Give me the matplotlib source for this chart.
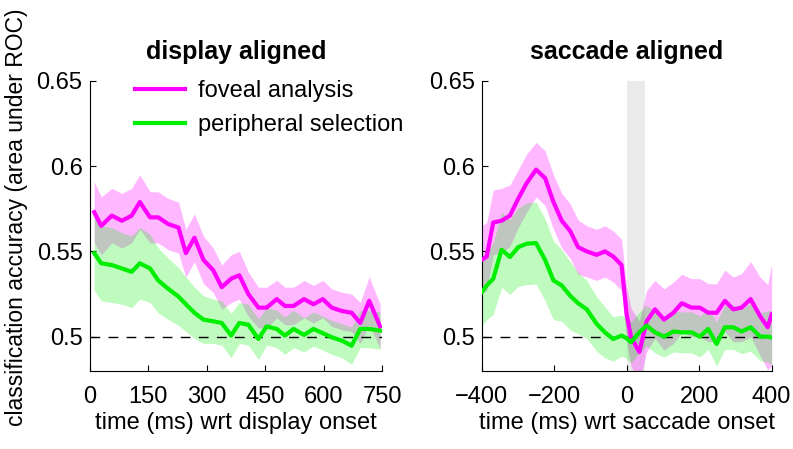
import matplotlib

matplotlib.use("Agg")
import matplotlib.pyplot as plt

plt.rcParams["font.family"] = ["Liberation Sans", "DejaVu Sans"]

# display aligned panel (time in ms wrt display onset)
disp_t = [12, 30, 57, 83, 108, 129, 155, 176, 202, 228, 247, 269, 292, 317, 339,
          363, 384, 407, 433, 454, 480, 501, 523, 550, 574, 598, 621, 647, 672,
          694, 717, 745]
disp_foveal = [0.573, 0.565, 0.571, 0.568, 0.571, 0.579, 0.570, 0.570, 0.566,
               0.564, 0.549, 0.558, 0.545, 0.539, 0.529, 0.534, 0.536, 0.525,
               0.517, 0.517, 0.522, 0.518, 0.518, 0.522, 0.519, 0.522, 0.517,
               0.515, 0.514, 0.508, 0.521, 0.506]
disp_foveal_err = [0.018, 0.017, 0.016, 0.016, 0.016, 0.016, 0.015, 0.015, 0.015,
                   0.015, 0.014, 0.014, 0.014, 0.013, 0.013, 0.014, 0.014, 0.013,
                   0.012, 0.012, 0.011, 0.011, 0.011, 0.011, 0.011, 0.011, 0.011,
                   0.011, 0.011, 0.012, 0.014, 0.013]
disp_periph = [0.549, 0.543, 0.542, 0.540, 0.538, 0.543, 0.540, 0.533, 0.528,
               0.5235, 0.519, 0.514, 0.510, 0.509, 0.508, 0.5006, 0.508, 0.507,
               0.4986, 0.506, 0.5045, 0.5006, 0.5045, 0.501, 0.5045, 0.502,
               0.4996, 0.4976, 0.4947, 0.5045, 0.5045, 0.5035]
disp_periph_err = [0.022, 0.022, 0.022, 0.021, 0.021, 0.021, 0.020, 0.019, 0.018,
                   0.017, 0.016, 0.015, 0.014, 0.013, 0.013, 0.013, 0.012, 0.012,
                   0.012, 0.011, 0.011, 0.011, 0.011, 0.010, 0.010, 0.010, 0.010,
                   0.010, 0.011, 0.011, 0.011, 0.011]

# saccade aligned panel (time in ms wrt saccade onset)
sacc_t = [-400, -386, -368, -345, -322, -299, -276, -250, -225, -202, -179, -156,
          -134, -110, -83, -60, -37, -14, 0, 12, 35, 55, 78, 103, 129, 152, 179,
          202, 225, 248, 271, 294, 317, 342, 368, 389, 400]
sacc_foveal = [0.545, 0.547, 0.567, 0.568, 0.571, 0.581, 0.590, 0.598, 0.593,
               0.579, 0.568, 0.562, 0.5525, 0.550, 0.548, 0.550, 0.547, 0.542,
               0.513, 0.4996, 0.491, 0.509, 0.516, 0.510, 0.514, 0.5196, 0.517,
               0.517, 0.514, 0.514, 0.521, 0.516, 0.517, 0.522, 0.512, 0.5055,
               0.513]
sacc_foveal_err = [0.020, 0.020, 0.019, 0.019, 0.018, 0.017, 0.017, 0.016, 0.016,
                   0.016, 0.016, 0.016, 0.016, 0.015, 0.015, 0.015, 0.015, 0.015,
                   0.016, 0.017, 0.018, 0.018, 0.017, 0.018, 0.018, 0.017, 0.017,
                   0.017, 0.017, 0.017, 0.018, 0.019, 0.020, 0.022, 0.023, 0.025,
                   0.030]
sacc_periph = [0.526, 0.530, 0.534, 0.551, 0.5467, 0.5525, 0.5545, 0.5549, 0.545,
               0.533, 0.530, 0.524, 0.5196, 0.516, 0.5075, 0.5025, 0.4986, 0.5006,
               0.499, 0.4967, 0.5025, 0.5065, 0.5025, 0.500, 0.503, 0.5025, 0.5025,
               0.500, 0.5045, 0.4957, 0.5055, 0.5055, 0.503, 0.5055, 0.500, 0.500,
               0.4995]
sacc_periph_err = [0.020, 0.020, 0.021, 0.022, 0.022, 0.023, 0.024, 0.024, 0.024,
                   0.023, 0.021, 0.020, 0.018, 0.017, 0.016, 0.015, 0.013, 0.012,
                   0.012, 0.012, 0.012, 0.012, 0.012, 0.012, 0.012, 0.012, 0.012,
                   0.012, 0.012, 0.013, 0.013, 0.013, 0.013, 0.014, 0.014, 0.015,
                   0.016]

saccade_window = (0, 50)

MAGENTA = "#ff00ff"
GREEN = "#00ee00"
FS = 17


def _panel(ax, t, fov, fov_err, per, per_err, xlim, xticks, title, xlabel):
    ax.fill_between(t, [v - e for v, e in zip(fov, fov_err)],
                    [v + e for v, e in zip(fov, fov_err)],
                    color=MAGENTA, alpha=0.28, lw=0)
    ax.fill_between(t, [v - e for v, e in zip(per, per_err)],
                    [v + e for v, e in zip(per, per_err)],
                    color=GREEN, alpha=0.25, lw=0)
    ax.axhline(0.5, color="black", lw=1, ls=(0, (7, 6)), zorder=3)
    ax.plot(t, fov, color=MAGENTA, lw=3, label="foveal analysis", zorder=4)
    ax.plot(t, per, color=GREEN, lw=3, label="peripheral selection", zorder=4)
    ax.set_xlim(*xlim)
    ax.set_ylim(0.48, 0.65)
    ax.set_xticks(xticks)
    ax.set_xticklabels([f"{x}".replace("-", "\u2212") for x in xticks])
    ax.set_yticks([0.5, 0.55, 0.6, 0.65])
    ax.set_yticklabels(["0.5", "0.55", "0.6", "0.65"])
    ax.spines["top"].set_visible(False)
    ax.spines["right"].set_visible(False)
    ax.tick_params(direction="in", length=4, labelsize=FS)
    ax.tick_params(axis="y", pad=5)
    ax.tick_params(axis="x", pad=11)
    ax.set_title(title, fontsize=18, fontweight="bold", pad=16)
    ax.set_xlabel(xlabel, fontsize=FS, labelpad=3)


fig = plt.figure(figsize=(7.93, 4.49), dpi=100)
ax1 = fig.add_axes([0.1129, 0.1744, 0.3689, 0.6452])
ax2 = fig.add_axes([0.6074, 0.1744, 0.3657, 0.6452])

_panel(ax1, disp_t, disp_foveal, disp_foveal_err, disp_periph, disp_periph_err,
       (0, 750), [0, 150, 300, 450, 600, 750], "display aligned",
       "time (ms) wrt display onset")
ax2.axvspan(*saccade_window, color="#ebebeb", lw=0, zorder=0)
_panel(ax2, sacc_t, sacc_foveal, sacc_foveal_err, sacc_periph, sacc_periph_err,
       (-400, 400), [-400, -200, 0, 200, 400], "saccade aligned",
       "time (ms) wrt saccade onset")

ax1.set_ylabel("classification accuracy (area under ROC)", fontsize=16.5)
ax1.yaxis.set_label_coords(-0.212, 0.53)

ax1.legend(loc="upper left", bbox_to_anchor=(0.124, 1.035), frameon=False,
           fontsize=FS, handlelength=2.1, handletextpad=0.55, labelspacing=0.5,
           borderaxespad=0.0)

fig.savefig("out.png", dpi=100)
